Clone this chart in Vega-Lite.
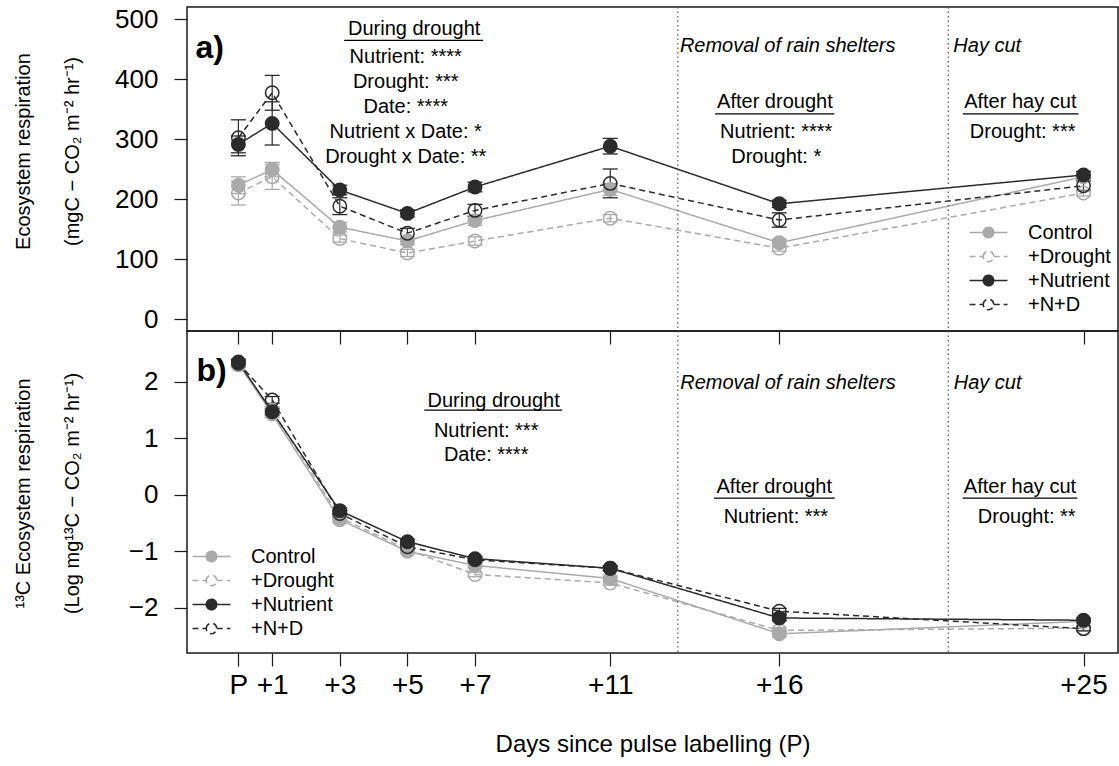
{
  "$schema": "https://vega.github.io/schema/vega-lite/v6.json",
  "background": "white",
  "padding": {"left": 12, "top": 5, "right": 2, "bottom": 0},
  "spacing": 0,
  "bounds": "flush",
  "config": {
    "font": "Liberation Sans",
    "view": {"stroke": "#1a1a1a", "strokeWidth": 1.5},
    "axis": {"grid": false, "domain": false, "tickColor": "#1a1a1a", "tickWidth": 1.2, "tickSize": 13, "labelColor": "black", "titleColor": "black", "labelFont": "Liberation Sans", "titleFont": "Liberation Sans", "titleFontWeight": "normal", "labelFlush": false, "labelOverlap": false},
    "legend": {"title": null, "orient": "none", "labelFont": "Liberation Sans", "labelFontSize": 20, "labelColor": "black", "symbolType": "M-1.52,0L-0.42,0M0.42,0L1.52,0M-0.42,0A0.42,0.42,0,1,1,0.42,0A0.42,0.42,0,1,1,-0.42,0Z", "symbolSize": 625, "symbolStrokeWidth": 1.5, "rowPadding": -0.5, "labelOffset": 26, "padding": 0},
    "text": {"font": "Liberation Sans", "fontSize": 20, "color": "black"}
  },
  "resolve": {"legend": {"stroke": "independent", "fill": "independent", "strokeDash": "independent"}},
  "datasets": {
    "d": [
      {"day": 0, "trt": "Control", "er": 223, "er_lo": 209, "er_hi": 237, "c13": 2.32, "c13_lo": 2.27, "c13_hi": 2.37},
      {"day": 0, "trt": "+Drought", "er": 210, "er_lo": 190, "er_hi": 230, "c13": 2.30, "c13_lo": 2.25, "c13_hi": 2.35},
      {"day": 0, "trt": "+Nutrient", "er": 291, "er_lo": 277, "er_hi": 305, "c13": 2.35, "c13_lo": 2.30, "c13_hi": 2.40},
      {"day": 0, "trt": "+N+D", "er": 302, "er_lo": 272, "er_hi": 332, "c13": 2.33, "c13_lo": 2.28, "c13_hi": 2.38},
      {"day": 1, "trt": "Control", "er": 249, "er_lo": 237, "er_hi": 261, "c13": 1.43, "c13_lo": 1.37, "c13_hi": 1.49},
      {"day": 1, "trt": "+Drought", "er": 237, "er_lo": 216, "er_hi": 258, "c13": 1.50, "c13_lo": 1.44, "c13_hi": 1.56},
      {"day": 1, "trt": "+Nutrient", "er": 326, "er_lo": 290, "er_hi": 362, "c13": 1.47, "c13_lo": 1.41, "c13_hi": 1.53},
      {"day": 1, "trt": "+N+D", "er": 377, "er_lo": 348, "er_hi": 406, "c13": 1.68, "c13_lo": 1.62, "c13_hi": 1.74},
      {"day": 3, "trt": "Control", "er": 153, "er_lo": 145, "er_hi": 161, "c13": -0.44, "c13_lo": -0.49, "c13_hi": -0.39},
      {"day": 3, "trt": "+Drought", "er": 134, "er_lo": 128, "er_hi": 140, "c13": -0.40, "c13_lo": -0.45, "c13_hi": -0.35},
      {"day": 3, "trt": "+Nutrient", "er": 215, "er_lo": 207, "er_hi": 223, "c13": -0.28, "c13_lo": -0.33, "c13_hi": -0.23},
      {"day": 3, "trt": "+N+D", "er": 188, "er_lo": 174, "er_hi": 202, "c13": -0.33, "c13_lo": -0.38, "c13_hi": -0.28},
      {"day": 5, "trt": "Control", "er": 130, "er_lo": 124, "er_hi": 136, "c13": -1.00, "c13_lo": -1.04, "c13_hi": -0.96},
      {"day": 5, "trt": "+Drought", "er": 110, "er_lo": 104, "er_hi": 116, "c13": -0.97, "c13_lo": -1.01, "c13_hi": -0.93},
      {"day": 5, "trt": "+Nutrient", "er": 176, "er_lo": 170, "er_hi": 182, "c13": -0.83, "c13_lo": -0.87, "c13_hi": -0.79},
      {"day": 5, "trt": "+N+D", "er": 143, "er_lo": 135, "er_hi": 151, "c13": -0.92, "c13_lo": -0.96, "c13_hi": -0.88},
      {"day": 7, "trt": "Control", "er": 164, "er_lo": 156, "er_hi": 172, "c13": -1.25, "c13_lo": -1.29, "c13_hi": -1.21},
      {"day": 7, "trt": "+Drought", "er": 130, "er_lo": 123, "er_hi": 137, "c13": -1.41, "c13_lo": -1.45, "c13_hi": -1.37},
      {"day": 7, "trt": "+Nutrient", "er": 220, "er_lo": 212, "er_hi": 228, "c13": -1.13, "c13_lo": -1.17, "c13_hi": -1.09},
      {"day": 7, "trt": "+N+D", "er": 181, "er_lo": 171, "er_hi": 191, "c13": -1.15, "c13_lo": -1.19, "c13_hi": -1.11},
      {"day": 11, "trt": "Control", "er": 216, "er_lo": 206, "er_hi": 226, "c13": -1.48, "c13_lo": -1.52, "c13_hi": -1.44},
      {"day": 11, "trt": "+Drought", "er": 168, "er_lo": 162, "er_hi": 174, "c13": -1.56, "c13_lo": -1.60, "c13_hi": -1.52},
      {"day": 11, "trt": "+Nutrient", "er": 288, "er_lo": 275, "er_hi": 301, "c13": -1.30, "c13_lo": -1.34, "c13_hi": -1.26},
      {"day": 11, "trt": "+N+D", "er": 226, "er_lo": 202, "er_hi": 250, "c13": -1.30, "c13_lo": -1.34, "c13_hi": -1.26},
      {"day": 16, "trt": "Control", "er": 127, "er_lo": 121, "er_hi": 133, "c13": -2.46, "c13_lo": -2.51, "c13_hi": -2.41},
      {"day": 16, "trt": "+Drought", "er": 118, "er_lo": 113, "er_hi": 123, "c13": -2.40, "c13_lo": -2.45, "c13_hi": -2.35},
      {"day": 16, "trt": "+Nutrient", "er": 192, "er_lo": 186, "er_hi": 198, "c13": -2.18, "c13_lo": -2.23, "c13_hi": -2.13},
      {"day": 16, "trt": "+N+D", "er": 165, "er_lo": 153, "er_hi": 177, "c13": -2.06, "c13_lo": -2.11, "c13_hi": -2.01},
      {"day": 25, "trt": "Control", "er": 237, "er_lo": 231, "er_hi": 243, "c13": -2.24, "c13_lo": -2.28, "c13_hi": -2.20},
      {"day": 25, "trt": "+Drought", "er": 210, "er_lo": 205, "er_hi": 215, "c13": -2.36, "c13_lo": -2.40, "c13_hi": -2.32},
      {"day": 25, "trt": "+Nutrient", "er": 240, "er_lo": 234, "er_hi": 246, "c13": -2.22, "c13_lo": -2.26, "c13_hi": -2.18},
      {"day": 25, "trt": "+N+D", "er": 222, "er_lo": 214, "er_hi": 230, "c13": -2.37, "c13_lo": -2.41, "c13_hi": -2.33}
    ]
  },
  "vconcat": [
    {
      "width": 931,
      "height": 324,
      "layer": [
        {
          "data": {"name": "d"},
          "mark": {"type": "rule", "strokeWidth": 1.2},
          "encoding": {
            "x": {"field": "day", "type": "quantitative", "scale": {"domain": [-1.52, 26.02], "nice": false, "zero": false}, "axis": {"values": [0, 1, 3, 5, 7, 11, 16, 25], "labels": false, "title": null}},
            "y": {"field": "er_lo", "type": "quantitative", "scale": {"domain": [-20, 520], "nice": false, "zero": false}, "axis": {"values": [0, 100, 200, 300, 400, 500], "labelFontSize": 26, "labelPadding": 16, "labelBaseline": "middle", "title": ["Ecosystem respiration", "(mgC − CO₂ m⁻² hr⁻¹)"], "titleFontSize": 20, "titleLineHeight": 49, "titleX": -158, "titleY": 144, "titleAngle": 270, "titleAlign": "center", "titleBaseline": "alphabetic"}},
            "y2": {"field": "er_hi"},
            "stroke": {"field": "trt", "type": "nominal", "scale": {"domain": ["Control", "+Drought", "+Nutrient", "+N+D"], "range": ["#aaaaaa", "#aaaaaa", "#2b2b2b", "#2b2b2b"]}, "legend": {"orient": "none", "legendX": 788, "legendY": 212}}
          }
        },
        {
          "data": {"name": "d"},
          "mark": {"type": "tick", "orient": "horizontal", "size": 15, "thickness": 1.3, "opacity": 1},
          "encoding": {
            "x": {"field": "day", "type": "quantitative"},
            "y": {"field": "er_lo", "type": "quantitative"},
            "color": {"field": "trt", "type": "nominal", "scale": {"domain": ["Control", "+Drought", "+Nutrient", "+N+D"], "range": ["#aaaaaa", "#aaaaaa", "#2b2b2b", "#2b2b2b"]}, "legend": null}
          }
        },
        {
          "data": {"name": "d"},
          "mark": {"type": "tick", "orient": "horizontal", "size": 15, "thickness": 1.3, "opacity": 1},
          "encoding": {
            "x": {"field": "day", "type": "quantitative"},
            "y": {"field": "er_hi", "type": "quantitative"},
            "color": {"field": "trt", "type": "nominal", "legend": null}
          }
        },
        {
          "data": {"name": "d"},
          "mark": {"type": "line", "strokeWidth": 1.5},
          "encoding": {
            "x": {"field": "day", "type": "quantitative"},
            "y": {"field": "er", "type": "quantitative"},
            "stroke": {"field": "trt", "type": "nominal", "legend": {"orient": "none", "legendX": 788, "legendY": 212}},
            "strokeDash": {"field": "trt", "type": "nominal", "scale": {"domain": ["Control", "+Drought", "+Nutrient", "+N+D"], "range": [[1, 0], [6, 4], [1, 0], [6, 4]]}, "legend": {"orient": "none", "legendX": 788, "legendY": 212}}
          }
        },
        {
          "data": {"name": "d"},
          "mark": {"type": "point", "shape": "circle", "size": 180, "strokeWidth": 1.5, "filled": true, "opacity": 1},
          "encoding": {
            "x": {"field": "day", "type": "quantitative"},
            "y": {"field": "er", "type": "quantitative"},
            "stroke": {"field": "trt", "type": "nominal", "legend": {"orient": "none", "legendX": 788, "legendY": 212}},
            "fill": {"field": "trt", "type": "nominal", "scale": {"domain": ["Control", "+Drought", "+Nutrient", "+N+D"], "range": ["#aaaaaa", "transparent", "#2b2b2b", "transparent"]}, "legend": {"orient": "none", "legendX": 788, "legendY": 212}}
          }
        },
        {"data": {"values": [{}]}, "mark": {"type": "rule", "color": "#555555", "strokeDash": [1.5, 3], "strokeWidth": 1.2}, "encoding": {"x": {"datum": 13}}},
        {"data": {"values": [{}]}, "mark": {"type": "rule", "color": "#555555", "strokeDash": [1.5, 3], "strokeWidth": 1.2}, "encoding": {"x": {"datum": 21}}},
        {"data": {"values": [{}]}, "mark": {"type": "text", "text": "a)", "fontSize": 32, "fontWeight": "bold", "align": "left", "baseline": "alphabetic"}, "encoding": {"x": {"datum": -1.27}, "y": {"datum": 435}}},
        {"data": {"values": [{}]}, "mark": {"type": "text", "text": "During drought", "align": "center", "baseline": "alphabetic"}, "encoding": {"x": {"datum": 5.2}, "y": {"datum": 473}}},
        {"data": {"values": [{}]}, "mark": {"type": "rule", "color": "black", "strokeWidth": 1.3}, "encoding": {"x": {"datum": 3.13}, "x2": {"datum": 7.24}, "y": {"datum": 464.5}}},
        {"data": {"values": [{}]}, "mark": {"type": "text", "text": ["Nutrient: ****", "Drought: ***", "Date: ****", "Nutrient x Date: *", "Drought x Date: **"], "lineHeight": 25, "align": "center", "baseline": "alphabetic"}, "encoding": {"x": {"datum": 4.95}, "y": {"datum": 426}}},
        {"data": {"values": [{}]}, "mark": {"type": "text", "text": "Removal of rain shelters", "fontStyle": "italic", "align": "left", "baseline": "alphabetic"}, "encoding": {"x": {"datum": 13.06}, "y": {"datum": 445.5}}},
        {"data": {"values": [{}]}, "mark": {"type": "text", "text": "Hay cut", "fontStyle": "italic", "align": "left", "baseline": "alphabetic"}, "encoding": {"x": {"datum": 21.15}, "y": {"datum": 445.5}}},
        {"data": {"values": [{}]}, "mark": {"type": "text", "text": "After drought", "align": "center", "baseline": "alphabetic"}, "encoding": {"x": {"datum": 15.87}, "y": {"datum": 352}}},
        {"data": {"values": [{}]}, "mark": {"type": "rule", "color": "black", "strokeWidth": 1.3}, "encoding": {"x": {"datum": 14.1}, "x2": {"datum": 17.63}, "y": {"datum": 342}}},
        {"data": {"values": [{}]}, "mark": {"type": "text", "text": ["Nutrient: ****", "Drought: *"], "lineHeight": 25, "align": "center", "baseline": "alphabetic"}, "encoding": {"x": {"datum": 15.91}, "y": {"datum": 301}}},
        {"data": {"values": [{}]}, "mark": {"type": "text", "text": "After hay cut", "align": "center", "baseline": "alphabetic"}, "encoding": {"x": {"datum": 23.13}, "y": {"datum": 352}}},
        {"data": {"values": [{}]}, "mark": {"type": "rule", "color": "black", "strokeWidth": 1.3}, "encoding": {"x": {"datum": 21.43}, "x2": {"datum": 24.85}, "y": {"datum": 342}}},
        {"data": {"values": [{}]}, "mark": {"type": "text", "text": "Drought: ***", "align": "center", "baseline": "alphabetic"}, "encoding": {"x": {"datum": 23.2}, "y": {"datum": 301}}}
      ]
    },
    {
      "width": 931,
      "height": 322,
      "layer": [
        {
          "data": {"name": "d"},
          "mark": {"type": "rule", "strokeWidth": 1.2},
          "encoding": {
            "x": {"field": "day", "type": "quantitative", "scale": {"domain": [-1.52, 26.02], "nice": false, "zero": false}, "axis": {"values": [0, 1, 3, 5, 7, 11, 16, 25], "labelExpr": "datum.value == 0 ? 'P' : '+' + datum.label", "labelFontSize": 28, "labelPadding": 5, "title": "Days since pulse labelling (P)", "titleFontSize": 24, "titlePadding": 33}},
            "y": {"field": "c13_lo", "type": "quantitative", "scale": {"domain": [-2.8, 2.9], "nice": false, "zero": false}, "axis": {"values": [-2, -1, 0, 1, 2], "format": "d", "labelFontSize": 26, "labelPadding": 16, "labelBaseline": "middle", "title": ["¹³C Ecosystem respiration", "(Log mg¹³C − CO₂ m⁻² hr⁻¹)"], "titleFontSize": 20, "titleLineHeight": 49, "titleX": -158, "titleY": 162, "titleAngle": 270, "titleAlign": "center", "titleBaseline": "alphabetic"}},
            "y2": {"field": "c13_hi"},
            "stroke": {"field": "trt", "type": "nominal", "legend": {"orient": "none", "legendX": 11, "legendY": 212}}
          }
        },
        {
          "data": {"name": "d"},
          "mark": {"type": "tick", "orient": "horizontal", "size": 15, "thickness": 1.3, "opacity": 1},
          "encoding": {
            "x": {"field": "day", "type": "quantitative"},
            "y": {"field": "c13_lo", "type": "quantitative"},
            "color": {"field": "trt", "type": "nominal", "legend": null}
          }
        },
        {
          "data": {"name": "d"},
          "mark": {"type": "tick", "orient": "horizontal", "size": 15, "thickness": 1.3, "opacity": 1},
          "encoding": {
            "x": {"field": "day", "type": "quantitative"},
            "y": {"field": "c13_hi", "type": "quantitative"},
            "color": {"field": "trt", "type": "nominal", "legend": null}
          }
        },
        {
          "data": {"name": "d"},
          "mark": {"type": "line", "strokeWidth": 1.5},
          "encoding": {
            "x": {"field": "day", "type": "quantitative"},
            "y": {"field": "c13", "type": "quantitative"},
            "stroke": {"field": "trt", "type": "nominal", "legend": {"orient": "none", "legendX": 11, "legendY": 212}},
            "strokeDash": {"field": "trt", "type": "nominal", "legend": {"orient": "none", "legendX": 11, "legendY": 212}}
          }
        },
        {
          "data": {"name": "d"},
          "mark": {"type": "point", "shape": "circle", "size": 180, "strokeWidth": 1.5, "filled": true, "opacity": 1},
          "encoding": {
            "x": {"field": "day", "type": "quantitative"},
            "y": {"field": "c13", "type": "quantitative"},
            "stroke": {"field": "trt", "type": "nominal", "legend": {"orient": "none", "legendX": 11, "legendY": 212}},
            "fill": {"field": "trt", "type": "nominal", "legend": {"orient": "none", "legendX": 11, "legendY": 212}}
          }
        },
        {"data": {"values": [{}]}, "mark": {"type": "rule", "color": "#555555", "strokeDash": [1.5, 3], "strokeWidth": 1.2}, "encoding": {"x": {"datum": 13}}},
        {"data": {"values": [{}]}, "mark": {"type": "rule", "color": "#555555", "strokeDash": [1.5, 3], "strokeWidth": 1.2}, "encoding": {"x": {"datum": 21}}},
        {"data": {"values": [{}]}, "mark": {"type": "text", "text": "b)", "fontSize": 32, "fontWeight": "bold", "align": "left", "baseline": "alphabetic"}, "encoding": {"x": {"datum": -1.24}, "y": {"datum": 2.02}}},
        {"data": {"values": [{}]}, "mark": {"type": "text", "text": "During drought", "align": "center", "baseline": "alphabetic"}, "encoding": {"x": {"datum": 7.55}, "y": {"datum": 1.56}}},
        {"data": {"values": [{}]}, "mark": {"type": "rule", "color": "black", "strokeWidth": 1.3}, "encoding": {"x": {"datum": 5.5}, "x2": {"datum": 9.58}, "y": {"datum": 1.5}}},
        {"data": {"values": [{}]}, "mark": {"type": "text", "text": ["Nutrient: ***", "Date: ****"], "lineHeight": 24.5, "align": "center", "baseline": "alphabetic"}, "encoding": {"x": {"datum": 7.33}, "y": {"datum": 1.027}}},
        {"data": {"values": [{}]}, "mark": {"type": "text", "text": "Removal of rain shelters", "fontStyle": "italic", "align": "left", "baseline": "alphabetic"}, "encoding": {"x": {"datum": 13.07}, "y": {"datum": 1.88}}},
        {"data": {"values": [{}]}, "mark": {"type": "text", "text": "Hay cut", "fontStyle": "italic", "align": "left", "baseline": "alphabetic"}, "encoding": {"x": {"datum": 21.16}, "y": {"datum": 1.88}}},
        {"data": {"values": [{}]}, "mark": {"type": "text", "text": "After drought", "align": "center", "baseline": "alphabetic"}, "encoding": {"x": {"datum": 15.85}, "y": {"datum": 0.04}}},
        {"data": {"values": [{}]}, "mark": {"type": "rule", "color": "black", "strokeWidth": 1.3}, "encoding": {"x": {"datum": 14.07}, "x2": {"datum": 17.64}, "y": {"datum": -0.06}}},
        {"data": {"values": [{}]}, "mark": {"type": "text", "text": "Nutrient: ***", "align": "center", "baseline": "alphabetic"}, "encoding": {"x": {"datum": 15.9}, "y": {"datum": -0.49}}},
        {"data": {"values": [{}]}, "mark": {"type": "text", "text": "After hay cut", "align": "center", "baseline": "alphabetic"}, "encoding": {"x": {"datum": 23.12}, "y": {"datum": 0.04}}},
        {"data": {"values": [{}]}, "mark": {"type": "rule", "color": "black", "strokeWidth": 1.3}, "encoding": {"x": {"datum": 21.42}, "x2": {"datum": 24.82}, "y": {"datum": -0.06}}},
        {"data": {"values": [{}]}, "mark": {"type": "text", "text": "Drought: **", "align": "center", "baseline": "alphabetic"}, "encoding": {"x": {"datum": 23.32}, "y": {"datum": -0.49}}}
      ]
    }
  ]
}
